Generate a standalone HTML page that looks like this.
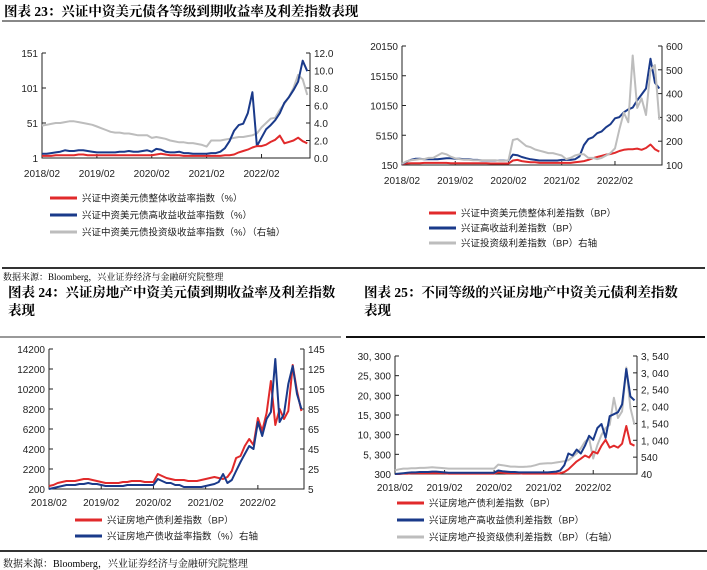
<!DOCTYPE html>
<html><head><meta charset="utf-8"><style>
body{margin:0;width:707px;height:570px;background:#fff;position:relative;overflow:hidden;font-family:"Liberation Sans","Noto Sans CJK SC",sans-serif}
.t{position:absolute;font-family:"Liberation Serif","Noto Serif CJK SC",serif;font-weight:bold;font-size:13.5px;color:#000;line-height:18px;white-space:nowrap}
.src{position:absolute;font-family:"Liberation Serif","Noto Serif CJK SC",serif;font-size:9px;color:#000}
.hl{position:absolute;height:2px}
svg{position:absolute;left:0;top:0}
</style></head><body>
<div class="t" style="left:4px;top:3px">图表 23：兴证中资美元债各等级到期收益率及利差指数表现</div>
<div class="hl" style="left:2px;top:20px;width:703px;background:#888"></div>
<div class="hl" style="left:2px;top:267px;width:703px;background:#333"></div>
<div class="src" style="left:3px;top:270px">数据来源：Bloomberg，兴业证券经济与金融研究院整理</div>
<div class="t" style="left:8px;top:284px;width:345px;white-space:normal;word-break:break-all">图表 24：兴证房地产中资美元债到期收益率及利差指数<br>表现</div>
<div class="t" style="left:364px;top:284px;width:343px;white-space:normal;word-break:break-all">图表 25：不同等级的兴证房地产中资美元债利差指数<br>表现</div>
<div class="hl" style="left:0;top:336px;width:341px;background:#999"></div>
<div class="hl" style="left:346px;top:336px;width:359px;background:#111"></div>
<div class="hl" style="left:0;top:550px;width:707px;background:#333"></div>
<div class="src" style="left:3px;top:555px;font-size:10px">数据来源：Bloomberg，兴业证券经济与金融研究院整理</div>
<svg id="svg" width="707" height="570" xmlns="http://www.w3.org/2000/svg"></svg>
<script>
const xLabels=["2018/02","2019/02","2020/02","2021/02","2022/02"];
// Chart 23 left
const c1Red=[4,4,4,5,5,5,5,5,6,6,5,5, 5,5,5,5,5,5,5,5,5,5,5,5, 5,6,7,6,5,5,5,4,4,4,4,4, 4,4,4,4,5,5,6,9,11,13,16,18, 18,20,24,27,33,22,24,26,30,25,22];
const c1Blue=[7,7,8,9,10,12,11,11,12,12,11,10, 9,9,9,9,9,10,10,11,10,10,11,12, 10,14,13,10,9,9,10,8,8,7,7,7, 7,8,8,10,15,25,40,48,50,65,95,18, 30,42,48,55,65,80,88,98,110,140,125];
const c1Gray=[3.7,3.8,3.9,4.0,4.0,4.1,4.2,4.2,4.1,4.0,3.9,3.8, 3.6,3.4,3.2,3.0,2.9,2.9,2.8,2.8,2.7,2.6,2.6,2.6, 2.3,2.4,2.3,2.2,2.0,1.9,1.8,1.8,1.7,1.7,1.6,1.5, 1.3,2.0,2.0,2.0,2.1,2.2,2.3,2.4,2.4,2.5,2.6,2.8, 3.5,4.0,4.5,4.6,5.5,6.2,7.0,8.0,9.5,9.0,7.2];
const c1LeftTicks=["1","51","101","151"];
const c1RightTicks=["0.0","2.0","4.0","6.0","8.0","10.0","12.0"];
// Chart 23 right
const c2Red=[300,400,450,450,450,500,500,500,500,500,500,450, 450,450,450,450,450,450,450,450,400,400,400,400, 400,900,1000,800,700,600,600,500,500,500,500,500, 500,500,500,600,700,800,1000,1300,1500,1700,1900,2000, 2200,2500,2700,2800,2800,2900,2700,3000,3600,2800,2400];
const c2Blue=[300,700,1000,1200,1200,1100,1100,1100,1100,1200,1300,1300, 1200,1200,1100,1100,1000,1000,900,900,900,900,900,900, 900,1900,1800,1500,1300,1100,1000,900,900,900,900,900, 1000,1000,1000,1100,1600,3500,4500,4800,5500,5800,6500,7000, 8000,8200,9000,9500,9800,11000,12000,13000,18000,14000,13000];
const c2Gray=[105,115,120,122,125,125,130,130,140,150,145,135, 128,125,122,122,120,120,120,120,120,120,118,118, 120,205,210,195,180,175,165,160,155,150,150,145, 140,125,130,140,145,145,130,130,125,130,140,150, 170,250,320,280,560,340,380,310,500,520,290];
const c2LeftTicks=["150","5150","10150","15150","20150"];
const c2RightTicks=["100","200","300","400","500","600"];
// Chart 24
const c3Red=[500,600,800,900,1000,1000,1000,1100,1200,1200,1100,1000, 900,800,800,800,800,900,900,1000,1000,1000,900,900, 900,1700,1500,1300,1200,1100,1100,1100,1000,1000,1000,1100, 1200,1300,1400,1300,1200,1400,2000,3300,3500,4500,5200,4600, 7300,6000,7800,11000,6600,8200,7200,8000,12600,10000,8000];
const c3Blue=[5,6,7,8,9,9,9,10,10,11,10,10, 9,8,8,8,8,8,9,9,9,9,9,9, 9,15,13,11,11,9,9,7,7,7,7,7, 8,9,10,12,20,11,14,23,32,40,48,45, 72,58,75,82,135,72,80,110,128,100,85];
const c3LeftTicks=["200","2200","4200","6200","8200","10200","12200","14200"];
const c3RightTicks=["5","25","45","65","85","105","125","145"];
// Chart 25
const c4Red=[300,300,400,400,500,500,500,500,500,500,500,500, 500,400,400,400,400,400,400,400,400,400,400,400, 400,700,600,500,500,500,500,400,400,400,400,400, 400,400,400,400,500,800,1500,2500,3500,4200,5000,4500, 6000,5500,7500,9000,7000,7500,7000,8000,12500,8000,7500];
const c4Blue=[300,400,500,600,700,700,800,800,800,900,900,800, 700,600,600,600,600,600,600,600,600,600,600,600, 600,1200,1000,900,800,800,700,700,700,700,700,700, 700,700,800,900,1200,2500,5500,5000,6500,5500,7500,10000, 9000,12000,13000,9500,15000,15500,16000,18000,27000,20000,19000];
const c4Gray=[150,180,200,200,210,210,220,220,230,240,230,220, 210,200,200,200,200,200,200,200,200,200,200,200, 200,320,300,280,260,260,250,250,260,270,300,340, 350,360,360,380,400,420,450,550,650,800,1000,1100, 500,900,1200,1400,1500,2300,1700,1900,3200,2000,1500];
const c4LeftTicks=["300","5, 300","10, 300","15, 300","20, 300","25, 300","30, 300"];
const c4RightTicks=["40","540","1, 040","1, 540","2, 040","2, 540","3, 040","3, 540"];

const RED="#e12a2b",BLUE="#1a3a8a",GRAY="#bdbdbd";
const svg=document.getElementById('svg');
const NS="http://www.w3.org/2000/svg";
function mk(tag,attrs,parent){const e=document.createElementNS(NS,tag);for(const k in attrs)e.setAttribute(k,attrs[k]);(parent||svg).appendChild(e);return e;}
function txt(x,y,s,anchor,size,parent){const e=mk('text',{x:x,y:y,'text-anchor':anchor,'font-size':size,fill:'#222','font-family':'"Liberation Sans","Noto Sans CJK SC",sans-serif'},parent);e.textContent=s;return e;}

function chart(cfg){
  const g=mk('g',{});
  
  
  const {L,R,T,B}=cfg;
  const xs=i=>L+(i/cfg.xSpan)*(R-L);
  const yL=v=>B-(v-cfg.lmin)/(cfg.lmax-cfg.lmin)*(B-T);
  const yR=v=>B-(v-cfg.rmin)/(cfg.rmax-cfg.rmin)*(B-T);
  const ax=mk('path',{d:`M${L},${T}V${B}H${R}V${T}`,fill:'none',stroke:'#222','stroke-width':1},g);
  
  
  cfg.leftTicks.forEach((s,k)=>{const v=cfg.lmin+k*(cfg.lmax-cfg.lmin)/(cfg.leftTicks.length-1);const y=yL(v);
    mk('line',{x1:L,x2:L+4,y1:y,y2:y,stroke:'#222'},g);
    const t=txt(L-4,y+4,s,'end',cfg.fs,g);
    
    });
  cfg.rightTicks.forEach((s,k)=>{const v=cfg.rmin+k*(cfg.rmax-cfg.rmin)/(cfg.rightTicks.length-1);const y=yR(v);
    mk('line',{x1:R-4,x2:R,y1:y,y2:y,stroke:'#222'},g);
    const t=txt(R+4,y+4,s,'start',cfg.fs,g);
    
    });
  xLabels.forEach((s,k)=>{const x=xs(k*12);
    mk('line',{x1:x,x2:x,y1:B,y2:B-4,stroke:'#222'},g);
    const t=txt(x,cfg.xly,s,'middle',cfg.fs,g);
    
    });
  cfg.series.forEach(sr=>{
    const f=sr.axis==='r'?yR:yL;
    const d=sr.data.map((v,i)=>(i?'L':'M')+xs(i).toFixed(1)+','+f(v).toFixed(1)).join('');
    const p=mk('path',{d:d,fill:'none',stroke:sr.color,'stroke-width':2,'stroke-linejoin':'round'},g);
    
    
  });
  cfg.legend.forEach((lg,k)=>{const y=cfg.legY+k*cfg.legDy;
    const ln=mk('line',{x1:cfg.legX,x2:cfg.legX+27,y1:y,y2:y,stroke:lg.color,'stroke-width':3},g);
    
    
    const t=txt(cfg.legX+32,y+3.5,lg.text,'start',9.5,g);
    
    });
}
const span=58.6;
chart({name:'chart-23-yield',L:42,R:310,T:53,B:158,xSpan:span,lmin:1,lmax:151,rmin:0,rmax:12,leftTicks:c1LeftTicks,rightTicks:c1RightTicks,xly:177,fs:10,
 series:[{id:'gray-ig-yield',data:c1Gray,axis:'r',color:GRAY},{id:'blue-hy-yield',data:c1Blue,axis:'l',color:BLUE},{id:'red-total-yield',data:c1Red,axis:'l',color:RED}],
 legX:50,legY:198,legDy:17,legend:[{color:RED,text:'兴证中资美元债整体收益率指数（%）'},{color:BLUE,text:'兴证中资美元债高收益收益率指数（%）'},{color:GRAY,text:'兴证中资美元债投资级收益率指数（%）（右轴）'}]});
chart({name:'chart-23-spread',L:402,R:662,T:46,B:165,xSpan:span,lmin:150,lmax:20150,rmin:100,rmax:600,leftTicks:c2LeftTicks,rightTicks:c2RightTicks,xly:184,fs:10,
 series:[{id:'red-total-spread',data:c2Red,axis:'l',color:RED},{id:'blue-hy-spread',data:c2Blue,axis:'l',color:BLUE},{id:'gray-ig-spread',data:c2Gray,axis:'r',color:GRAY}],
 legX:429,legY:213,legDy:15,legend:[{color:RED,text:'兴证中资美元债整体利差指数（BP）'},{color:BLUE,text:'兴证高收益利差指数（BP）'},{color:GRAY,text:'兴证投资级利差指数（BP）右轴'}]});
chart({name:'chart-24-property',L:49,R:304,T:349,B:489,xSpan:span,lmin:200,lmax:14200,rmin:5,rmax:145,leftTicks:c3LeftTicks,rightTicks:c3RightTicks,xly:506,fs:10,
 series:[{id:'red-property-spread',data:c3Red,axis:'l',color:RED},{id:'blue-property-yield',data:c3Blue,axis:'r',color:BLUE}],
 legX:75,legY:520,legDy:16,legend:[{color:RED,text:'兴证房地产债利差指数（BP）'},{color:BLUE,text:'兴证房地产债收益率指数（%）右轴'}]});
chart({name:'chart-25-property-grades',L:395,R:637,T:356,B:474,xSpan:span,lmin:300,lmax:30300,rmin:40,rmax:3540,leftTicks:c4LeftTicks,rightTicks:c4RightTicks,xly:491,fs:10,
 series:[{id:'gray-property-ig',data:c4Gray,axis:'r',color:GRAY},{id:'red-property-spread',data:c4Red,axis:'l',color:RED},{id:'blue-property-hy',data:c4Blue,axis:'l',color:BLUE}],
 legX:397,legY:503,legDy:17,legend:[{color:RED,text:'兴证房地产债利差指数（BP）'},{color:BLUE,text:'兴证房地产高收益债利差指数（BP）'},{color:GRAY,text:'兴证房地产投资级债利差指数（BP）（右轴）'}]});
</script>
</body></html>
